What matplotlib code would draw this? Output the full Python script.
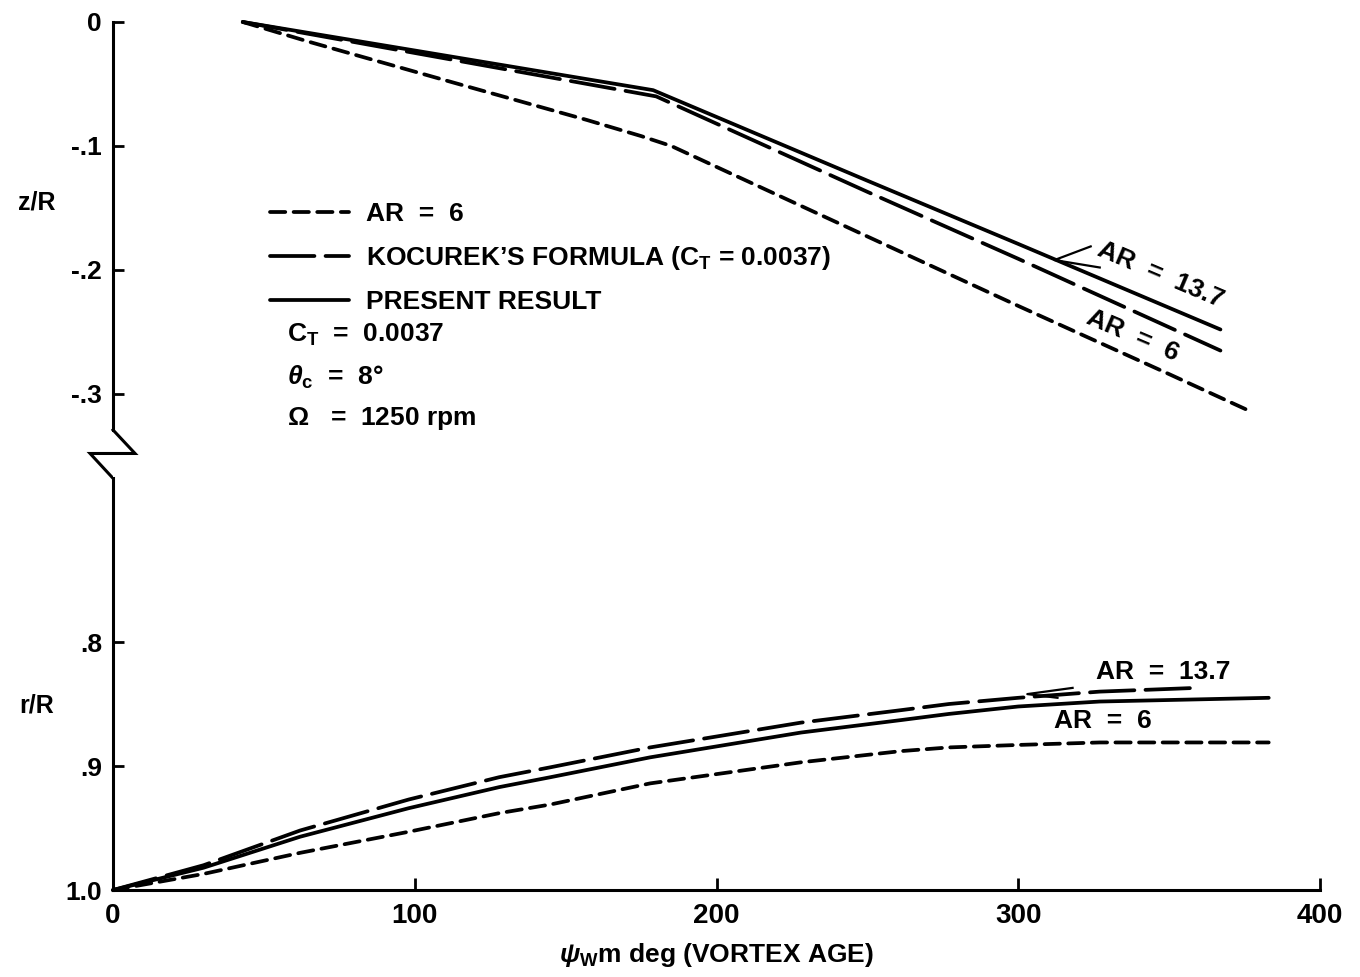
import matplotlib
matplotlib.use('Agg')
import matplotlib.pyplot as plt

plt.rcParams['font.family'] = ['Liberation Sans', 'DejaVu Sans']
plt.rcParams['font.weight'] = 'bold'
plt.rcParams['axes.labelweight'] = 'bold'
plt.rcParams['mathtext.fontset'] = 'custom'
plt.rcParams['mathtext.rm'] = 'Liberation Sans:bold'
plt.rcParams['mathtext.it'] = 'Liberation Sans:italic:bold'
plt.rcParams['mathtext.bf'] = 'Liberation Sans:bold'
plt.rcParams['mathtext.default'] = 'regular'
plt.rcParams['lines.scale_dashes'] = False

#Top panel: vertical displacement z/R against vortex age (deg)
age_z_ar6 = [43, 65, 113, 157, 175, 185, 201, 250, 300, 350, 376]
z_ar6 = [0.0, -0.016, -0.049, -0.079, -0.092, -0.100, -0.118, -0.173, -0.229, -0.284, -0.313]
age_z_koc = [43, 100, 180, 250, 300, 367]
z_koc = [0.0, -0.025, -0.060, -0.137, -0.191, -0.265]
age_z_pres = [43, 100, 179, 250, 300, 367]
z_pres = [0.0, -0.023, -0.055, -0.128, -0.179, -0.248]

#Bottom panel: radial position r/R against vortex age (deg)
age_r_ar6 = [0, 30, 62, 98, 128, 145, 178, 228, 261, 277, 300, 327, 383]
r_ar6 = [1.0, 0.987, 0.970, 0.953, 0.938, 0.931, 0.914, 0.897, 0.888, 0.885, 0.883, 0.881, 0.881]
age_r_koc = [0, 30, 62, 98, 128, 145, 178, 228, 261, 277, 300, 327, 359]
r_koc = [1.0, 0.980, 0.952, 0.927, 0.909, 0.901, 0.885, 0.865, 0.855, 0.850, 0.845, 0.840, 0.837]
age_r_pres = [0, 30, 62, 98, 128, 145, 178, 228, 261, 277, 300, 327, 383]
r_pres = [1.0, 0.982, 0.957, 0.934, 0.917, 0.909, 0.893, 0.873, 0.863, 0.858, 0.852, 0.848, 0.845]

z_ticks = [0, -0.1, -0.2, -0.3]
z_ticklabels = ['0', '-.1', '-.2', '-.3']
r_ticks = [0.8, 0.9, 1.0]
r_ticklabels = ['.8', '.9', '1.0']
age_ticks = [0, 100, 200, 300, 400]
age_ticklabels = ['0', '100', '200', '300', '400']

#Line styles
lw = 2.7
short_dash = dict(color='black', lw=lw, dashes=(11, 6), dash_capstyle='round')
long_dash = dict(color='black', lw=lw, dashes=(32, 8), dash_capstyle='round')
solid = dict(color='black', lw=lw, solid_capstyle='round')

fig = plt.figure(figsize=(13.6, 9.77), dpi=100)
ax_z = fig.add_axes([0.0831, 0.5333, 0.8875, 0.4442])
ax_r = fig.add_axes([0.0831, 0.0890, 0.8875, 0.4443])

#Top panel curves
ax_z.plot(age_z_ar6, z_ar6, label='AR  =  6', clip_on=False, **short_dash)
ax_z.plot(age_z_koc, z_koc, label='KOCUREK\u2019S FORMULA (C$_{T}$ = 0.0037)', clip_on=False, **long_dash)
ax_z.plot(age_z_pres, z_pres, label='PRESENT RESULT', clip_on=False, **solid)

#Bottom panel curves
ax_r.plot(age_r_ar6, r_ar6, clip_on=False, **short_dash)
ax_r.plot(age_r_koc, r_koc, clip_on=False, **long_dash)
ax_r.plot(age_r_pres, r_pres, clip_on=False, **solid)

#Axes limits and spines
ax_z.set_xlim(0, 400)
ax_z.set_ylim(-0.35, 0)
ax_r.set_xlim(0, 400)
ax_r.set_ylim(1.0, 0.65)

for s in ['top', 'right', 'bottom']:
    ax_z.spines[s].set_visible(False)
for s in ['top', 'right']:
    ax_r.spines[s].set_visible(False)
ax_z.spines['left'].set_bounds(-0.329, 0)
ax_r.spines['left'].set_bounds(0.668, 1.0)
for ax in [ax_z, ax_r]:
    for s in ['left', 'bottom']:
        ax.spines[s].set_linewidth(2.2)

#Zigzag break on the vertical axis
ax_z.plot([0, 7.3, -7.6, 0], [-0.329, -0.348, -0.348, -0.368],
          color='black', lw=2.2, clip_on=False, solid_joinstyle='miter')

#Ticks
ax_z.set_xticks([])
ax_z.set_yticks(z_ticks)
ax_z.set_yticklabels(z_ticklabels)
ax_r.set_yticks(r_ticks)
ax_r.set_yticklabels(r_ticklabels)
ax_r.set_xticks(age_ticks)
ax_r.set_xticklabels(age_ticklabels)
for ax in [ax_z, ax_r]:
    ax.tick_params(axis='y', direction='in', length=8, width=2, labelsize=19, pad=8)
ax_r.tick_params(axis='x', direction='in', length=9, width=2, labelsize=20, pad=9)

#Axis labels
ax_z.set_ylabel('z/R', fontsize=18, rotation=0, ha='center', va='center')
ax_z.yaxis.set_label_coords(-0.063, 0.585)
ax_r.set_ylabel('r/R', fontsize=18, rotation=0, ha='center', va='center')
ax_r.yaxis.set_label_coords(-0.063, 0.424)
ax_r.set_xlabel('$\\mathit{\\psi}_{W}$m deg (VORTEX AGE)', fontsize=19, labelpad=9)

#Legend
ax_z.legend(loc='upper left', bbox_to_anchor=(270 / 1360, 1 - 202 / 977),
            bbox_transform=fig.transFigure, frameon=False, fontsize=19,
            handlelength=3.0, handletextpad=0.65, labelspacing=0.68,
            borderpad=0, borderaxespad=0)

#Test conditions
fig.text(287 / 1360, 1 - 335 / 977, 'C$_{T}$  =  0.0037', fontsize=19, va='center')
fig.text(287 / 1360, 1 - 377 / 977, '$\\mathit{\\theta}_{c}$  =  8\u00b0', fontsize=19, va='center')
fig.text(287 / 1360, 1 - 418 / 977, '$\\mathit{\\Omega}$   =  1250 rpm', fontsize=19, va='center')

#Curve labels, top panel
ax_z.text(347, -0.204, 'AR  =  13.7', fontsize=19, rotation=-23,
          rotation_mode='anchor', ha='center', va='center')
ax_z.text(338, -0.253, 'AR  =  6', fontsize=19, rotation=-23,
          rotation_mode='anchor', ha='center', va='center')
ax_z.plot([324, 312, 327], [-0.181, -0.192, -0.198], color='black', lw=1.6)

#Curve labels, bottom panel
ax_r.text(348, 0.824, 'AR  =  13.7', fontsize=19, ha='center', va='center')
ax_r.text(328, 0.864, 'AR  =  6', fontsize=19, ha='center', va='center')
ax_r.plot([318, 303, 313], [0.837, 0.842, 0.845], color='black', lw=1.6)

plt.savefig('out.png', dpi=100)
